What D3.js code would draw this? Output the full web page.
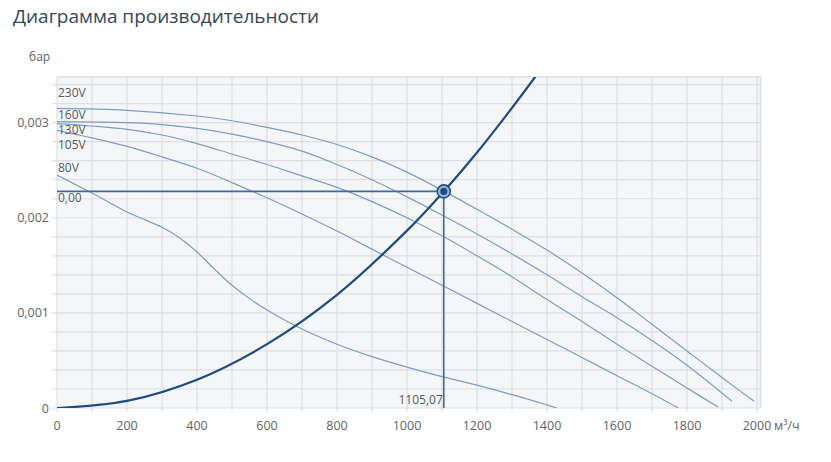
<!DOCTYPE html>
<html>
<head>
<meta charset="utf-8">
<script src="https://cdn.jsdelivr.net/npm/d3@7"></script>
<style>
  html, body { margin: 0; padding: 0; background: #fff; }
  body { width: 831px; height: 462px; overflow: hidden; font-family: "Open Sans", "Noto Sans", sans-serif; }
</style>
</head>
<body>
<div id="chart"></div>
<script>
// ------- data -------
const TITLE = "Диаграмма производительности";
const Y_UNIT = "бар";
const X_UNIT = "м³/ч";

const speedLabels = ["230V", "160V", "130V", "105V", "80V"];

const q230 = [0, 200, 400, 500, 600, 700, 800, 900, 1000, 1105, 1200, 1300, 1400, 1500, 1600, 1700, 1800, 1900, 1992];
const p230 = [0.00315, 0.00313, 0.00307, 0.00302, 0.00295, 0.00287, 0.00277, 0.00264, 0.00248, 0.00228, 0.00209, 0.00188, 0.00166, 0.00142, 0.00116, 0.00088, 0.00060, 0.00032, 0.00007];

const q160 = [0, 200, 300, 400, 500, 600, 700, 800, 900, 1000, 1100, 1200, 1300, 1400, 1500, 1600, 1700, 1800, 1929];
const p160 = [0.00301, 0.00300, 0.00298, 0.00294, 0.00288, 0.00280, 0.00270, 0.00256, 0.00240, 0.00222, 0.00203, 0.00183, 0.00162, 0.00140, 0.00117, 0.00095, 0.00071, 0.00045, 0.00007];

const q130 = [0, 200, 300, 400, 500, 600, 700, 800, 900, 1000, 1100, 1200, 1300, 1400, 1500, 1600, 1700, 1800, 1889];
const p130 = [0.00299, 0.00293, 0.00287, 0.00278, 0.00267, 0.00256, 0.00244, 0.00232, 0.00217, 0.00200, 0.00181, 0.00160, 0.00138, 0.00114, 0.00091, 0.00067, 0.00044, 0.00021, 0.00001];

const q105 = [0, 100, 200, 300, 400, 500, 600, 700, 800, 900, 1000, 1100, 1200, 1300, 1400, 1500, 1600, 1700, 1775];
const p105 = [0.00292, 0.00284, 0.00275, 0.00264, 0.00252, 0.00237, 0.00221, 0.00204, 0.00186, 0.00167, 0.00148, 0.00129, 0.00110, 0.00091, 0.00072, 0.00053, 0.00034, 0.00015, 0];

const q80 = [0, 100, 200, 250, 300, 350, 400, 450, 500, 550, 600, 700, 800, 900, 1000, 1100, 1200, 1300, 1428];
const p80 = [0.00245, 0.00226, 0.00206, 0.00198, 0.00190, 0.00179, 0.00164, 0.00146, 0.00129, 0.00115, 0.00103, 0.00083, 0.00067, 0.00054, 0.00043, 0.00033, 0.00024, 0.00014, 0];

// system (network) curve
const qSys = [0, 200, 400, 600, 800, 1000, 1105.07, 1200, 1366, 1420];
const pSys = [0, 0.0000746, 0.000298, 0.000671, 0.00119, 0.001865, 0.002277, 0.002686, 0.00348, 0.00376];

// operating point
const opFlow = 1105.07;
const opPressure = 0.002277;
const opFlowLabel = "1105,07";
const opPressureLabel = "0,00";

const xTicks = [0, 200, 400, 600, 800, 1000, 1200, 1400, 1600, 1800, 2000];
const yTicks = [0, 0.001, 0.002, 0.003];
const yTickLabels = ["0", "0,001", "0,002", "0,003"];

// ------- chart -------
const fanSeries = [
  d3.zip(q230, p230), d3.zip(q160, p160), d3.zip(q130, p130), d3.zip(q105, p105), d3.zip(q80, p80)
];

const width = 831, height = 462;
const margin = { top: 77, right: 70.5, bottom: 54, left: 57 };

const svg = d3.select("#chart").append("svg")
  .attr("width", width).attr("height", height);

svg.append("text")
  .attr("x", 13).attr("y", 23)
  .attr("fill", "#33475c")
  .style("font-size", "19px")
  .text(TITLE);

const x = d3.scaleLinear().domain([0, 2010]).range([margin.left, width - margin.right]);
const y = d3.scaleLinear().domain([0, 0.00348]).range([height - margin.bottom, margin.top]);

const [x0, x1] = x.range();
const [y0, y1] = y.range();

svg.append("clipPath").attr("id", "plot-clip")
  .append("rect").attr("x", x0).attr("y", y1).attr("width", x1 - x0).attr("height", y0 - y1);

svg.append("rect")
  .attr("x", x0).attr("y", y1).attr("width", x1 - x0).attr("height", y0 - y1)
  .attr("fill", "#f4f6f8");

// grid
const grid = svg.append("g").attr("stroke", "#dcdfe4").attr("stroke-width", 1.2);
grid.selectAll("line.v")
  .data(d3.range(0, 2001, 100))
  .enter().append("line")
  .attr("x1", d => x(d)).attr("x2", d => x(d))
  .attr("y1", y1).attr("y2", y0 + 4);
grid.selectAll("line.h")
  .data(d3.range(0, 0.00341, 0.0002))
  .enter().append("line")
  .attr("x1", x0 - 5).attr("x2", x1)
  .attr("y1", d => y(d)).attr("y2", d => y(d));
// border top/right
svg.append("path")
  .attr("d", `M${x0},${y1}H${x1}V${y0}`)
  .attr("fill", "none").attr("stroke", "#dcdfe4").attr("stroke-width", 1.5);

// axes text
const axisText = svg.append("g").attr("fill", "#5f6368").style("font-size", "12.5px");
axisText.selectAll("text.x")
  .data(xTicks).enter().append("text")
  .attr("x", d => x(d)).attr("y", y0 + 22)
  .attr("text-anchor", "middle")
  .text(d => d);
axisText.selectAll("text.y")
  .data(yTicks).enter().append("text")
  .attr("x", x0 - 8).attr("y", d => y(d) + 4.5)
  .attr("text-anchor", "end")
  .text((d, i) => yTickLabels[i]);
axisText.append("text")
  .attr("x", x(2000) + 17).attr("y", y0 + 22)
  .text(X_UNIT);
axisText.append("text")
  .attr("x", 29).attr("y", 61)
  .style("font-size", "12px")
  .text(Y_UNIT);

const line = d3.line()
  .x(d => x(d[0]))
  .y(d => y(d[1]))
  .curve(d3.curveCatmullRom.alpha(0.5));

const plot = svg.append("g").attr("clip-path", "url(#plot-clip)");

plot.selectAll("path.fan")
  .data(fanSeries).enter().append("path")
  .attr("class", "fan")
  .attr("fill", "none")
  .attr("stroke", "#7e9dc2")
  .attr("stroke-width", 1.2)
  .attr("d", line);

// speed labels: stacked from the top, a free label sits just above its curve
const labelG = svg.append("g").attr("fill", "#585b60").style("font-size", "12px");
let prevY = null;
fanSeries.forEach((s, i) => {
  const y0i = y(s[0][1]);
  let ly;
  if (prevY === null) ly = y0i - 11;
  else if (y0i - 3 - prevY > 20) ly = y0i - 3;
  else ly = Math.max(y0i - 11, prevY + 15);
  prevY = ly;
  labelG.append("text").attr("x", x0 + 1).attr("y", ly).text(speedLabels[i]);
});

// operating point drop lines
plot.append("path")
  .attr("d", `M${x0},${y(opPressure)}H${x(opFlow)}V${y0}`)
  .attr("fill", "none").attr("stroke", "#3f6b9c").attr("stroke-width", 1.6);

labelG.append("text").attr("x", x0 + 1).attr("y", y(opPressure) + 11).text(opPressureLabel);
labelG.append("text")
  .attr("x", x(opFlow) - 1).attr("y", y0 - 4)
  .attr("text-anchor", "end")
  .text(opFlowLabel);

// system curve
plot.append("path")
  .datum(d3.zip(qSys, pSys))
  .attr("fill", "none")
  .attr("stroke", "#1d4c82")
  .attr("stroke-width", 2.2)
  .attr("d", line);

svg.append("circle")
  .attr("cx", x(opFlow)).attr("cy", y(opPressure)).attr("r", 6.5)
  .attr("fill", "#9fb8d6").attr("stroke", "#1d4c82").attr("stroke-width", 1.6);
svg.append("circle")
  .attr("cx", x(opFlow)).attr("cy", y(opPressure)).attr("r", 3.6)
  .attr("fill", "#1d4c82");
</script>
</body>
</html>
